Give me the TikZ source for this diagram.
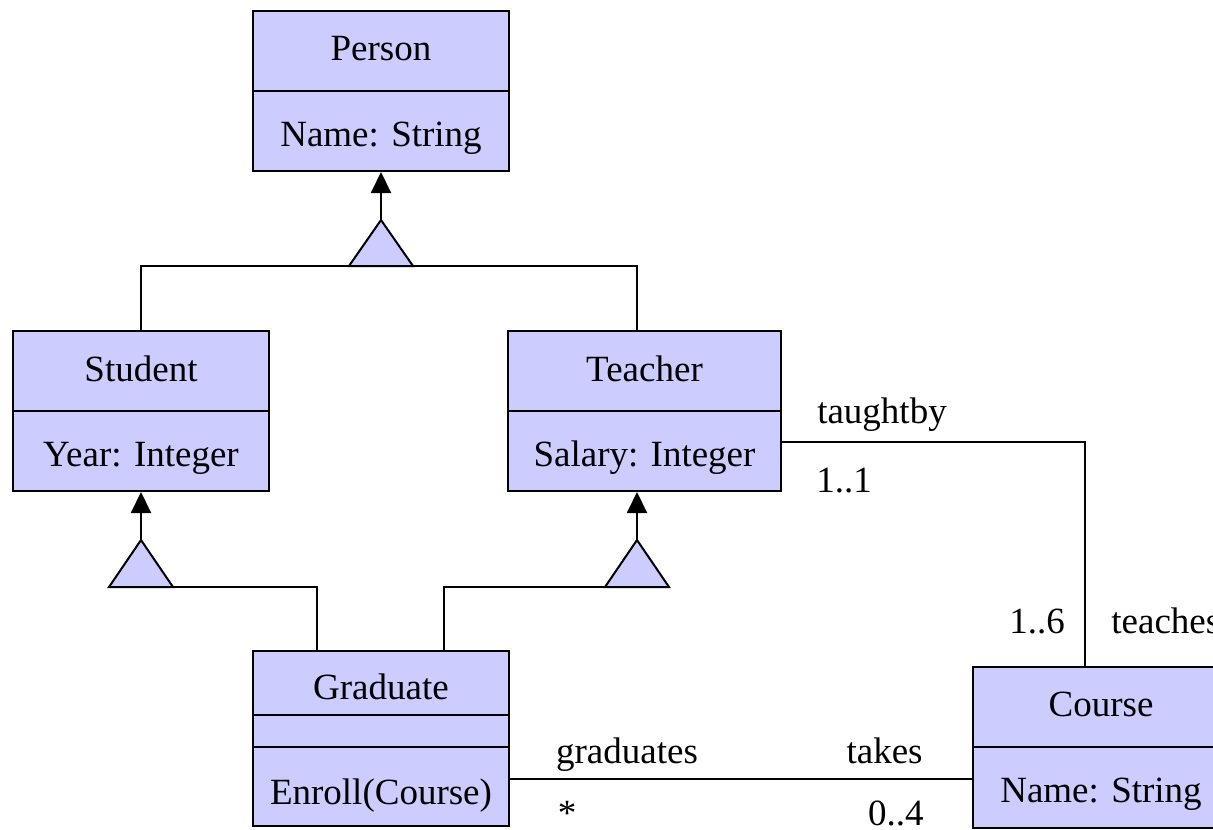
\documentclass[tikz,border=0pt]{standalone}
\usepackage{fontspec}
\setmainfont{Liberation Serif}
\usetikzlibrary{arrows.meta}
\definecolor{umlfill}{RGB}{204,204,255}
\tikzset{
  compartment/.style={draw=black, fill=umlfill, line width=1pt, inner sep=0pt,
                      minimum width=128pt},
  wide/.style={minimum width=136.5pt},
  txt/.style={inner sep=0pt, anchor=base, font=\fontsize{18.5}{22}\selectfont},
  link/.style={line width=1pt},
  genarrow/.style={line width=1pt, -{Triangle[length=10.5pt,width=10pt]}},
  gentri/.style={draw=black, fill=umlfill, line width=1pt, line join=miter}
}
\begin{document}
\begin{tikzpicture}[x=0.5pt,y=-0.5pt]
\useasboundingbox (0,0) rectangle (1213,829);
\clip (0,0) rectangle (1213,829);

% class compartments
\node[compartment, minimum height=40pt] (person-title) at (381,51) {};
\node[compartment, minimum height=40pt] (person-attr)  at (381,131) {};
\node[compartment, minimum height=40pt] (student-title) at (141,371) {};
\node[compartment, minimum height=40pt] (student-attr)  at (141,451) {};
\node[compartment, wide, minimum height=40pt] (teacher-title) at (644.5,371) {};
\node[compartment, wide, minimum height=40pt] (teacher-attr)  at (644.5,451) {};
\node[compartment, minimum height=32pt] (grad-title) at (381,683) {};
\node[compartment, minimum height=16pt] (grad-attr)  at (381,731) {};
\node[compartment, minimum height=39.5pt] (grad-ops) at (381,786.5) {};
\node[compartment, minimum height=40pt] (course-title) at (1101,707) {};
\node[compartment, minimum height=40.5pt] (course-attr) at (1101,787.5) {};

% compartment texts
\node[txt] (t-person) at ([yshift=-25.5pt]person-title.north) {Person};
\node[txt] (t-pname)  at ([yshift=-28pt]person-attr.north) {Name: String};
\node[txt] (t-student) at ([yshift=-25.5pt]student-title.north) {Student};
\node[txt] (t-year)    at ([yshift=-28pt]student-attr.north) {Year: Integer};
\node[txt] (t-teacher) at ([yshift=-25.5pt]teacher-title.north) {Teacher};
\node[txt] (t-salary)  at ([yshift=-28pt]teacher-attr.north) {Salary: Integer};
\node[txt] (t-grad)    at ([yshift=-24.5pt]grad-title.north) {Graduate};
\node[txt] (t-enroll)  at ([yshift=-29pt]grad-ops.north) {Enroll(Course)};
\node[txt] (t-course)  at ([yshift=-25pt]course-title.north) {Course};
\node[txt] (t-cname)   at ([yshift=-28pt]course-attr.north) {Name: String};

% generalization apexes
\coordinate (pgen) at (381,220);
\coordinate (sgen) at (141,540);
\coordinate (tgen) at (637,540);

% Student/Teacher -> Person
\draw[link] (student-title.north) |- ([yshift=-23pt]pgen) -| (tgen |- teacher-title.north);
\draw[genarrow] (pgen) -- (pgen |- person-attr.south);
\draw[gentri] (pgen) -- ++(-32,46) -- ++(64,0) -- cycle;

% Graduate -> Student, Graduate -> Teacher
\draw[link] ([xshift=-32pt]grad-title.north) |- ([yshift=-23.5pt]sgen);
\draw[link] ([xshift=31.5pt]grad-title.north) |- ([yshift=-23.5pt]tgen);
\draw[genarrow] (sgen) -- (sgen |- student-attr.south);
\draw[genarrow] (tgen) -- (tgen |- teacher-attr.south);
\draw[gentri] (sgen) -- ++(-32,47) -- ++(64,0) -- cycle;
\draw[gentri] (tgen) -- ++(-32,47) -- ++(64,0) -- cycle;

% associations
\draw[link] ([yshift=4.5pt]teacher-attr.east) -| ([xshift=-8pt]course-title.north);
\draw[link] ([yshift=3.75pt]grad-ops.east) -- ([yshift=3.75pt]grad-ops.east -| course-attr.west);

% association end labels
\node[txt] (l-taughtby) at (882,423) {taughtby};
\node[txt] (l-11)       at (844,492) {1..1};
\node[txt] (l-16)       at (1037,633) {1..6};
\node[txt, anchor=base west] (l-teaches) at (1111,633) {teaches};
\node[txt] (l-graduates) at (627,763) {graduates};
\node[txt, anchor=base east] (l-takes) at (923,763) {takes};
\node[txt] (l-star) at (567,825) {*};
\node[txt, anchor=base east] (l-04) at (924,825) {0..4};
\end{tikzpicture}
\end{document}
